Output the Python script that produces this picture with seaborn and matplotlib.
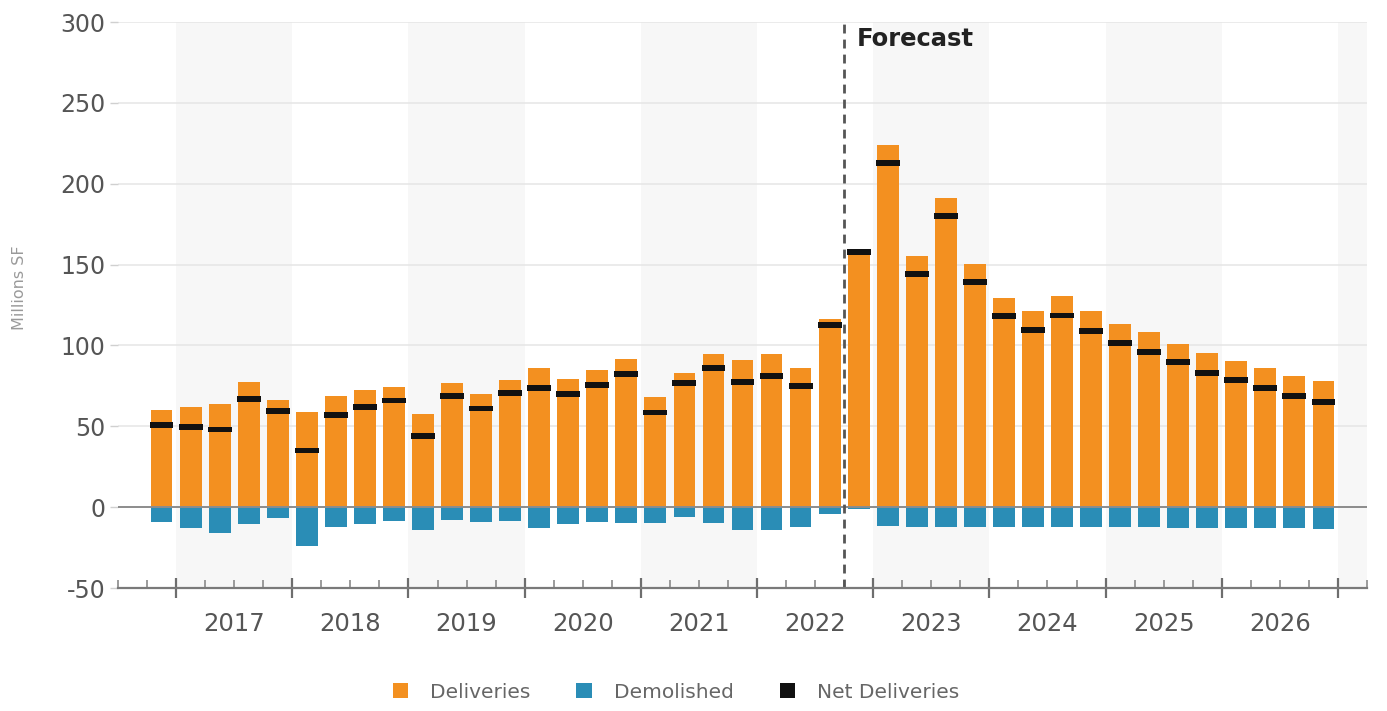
import matplotlib
matplotlib.use("Agg")
import matplotlib.pyplot as plt
from matplotlib.patches import Patch
import numpy as np
import pandas as pd
import seaborn as sns

# Quarterly series, 2016 Q4 through 2026 Q4 (millions of square feet)
quarters = (["2016 Q4"]
            + [f"{y} Q{q}" for y in range(2017, 2027) for q in range(1, 5)])
deliveries = [60, 62, 64, 77.5, 66, 59, 69, 72.5, 74.5, 57.5, 76.5, 70, 78.5,
              86, 79.5, 84.5, 91.5, 68, 83, 95, 91, 95, 86, 116.5,
              159, 224, 155, 191, 150.5, 129.5, 121, 130.5, 121,
              113, 108, 101, 95.5, 90.5, 86, 81, 78]
demolished = [-9, -13, -16, -10.5, -7, -24, -12.5, -10.5, -8.5, -14, -8, -9,
              -8.5, -13, -10.5, -9, -9.5, -10, -6, -9.5, -14, -14, -12, -4,
              -1, -11.5, -12, -12, -12, -12, -12, -12, -12,
              -12.5, -12.5, -13, -13, -13, -13, -13, -13.5]
net_deliveries = [51, 49.5, 48, 67, 59.5, 35, 57, 62, 66, 44, 68.5, 61, 70.5,
                  73.5, 70, 75.5, 82.5, 58.5, 77, 86, 77.5, 81, 75, 112.5,
                  158, 213, 144, 180, 139, 118, 109.5, 118.5, 109,
                  101.5, 96, 89.5, 83, 78.5, 73.5, 68.5, 65]
years = list(range(2017, 2027))
y_ticks = [-50, 0, 50, 100, 150, 200, 250, 300]
legend_labels = ["Deliveries", "Demolished", "Net Deliveries"]
forecast_label = "Forecast"
y_label = "Millions SF"

ORANGE = "#F39020"
BLUE = "#2A8DB6"
BLACK = "#111111"

df = pd.DataFrame({"quarter": quarters,
                   "deliveries": deliveries,
                   "demolished": demolished,
                   "net": net_deliveries})

sns.set_style("white")
plt.rcParams["font.family"] = ["DejaVu Sans"]

fig = plt.figure(figsize=(13.87, 7.11), dpi=100)
ax = fig.add_axes([118 / 1387, 1 - 588 / 711, (1367 - 118) / 1387, (588 - 22) / 711])

n = len(quarters)
pos = np.arange(n)

# alternating year bands (odd years shaded); 2017 starts at position 0.5
for k in range(0, 12, 2):
    ax.axvspan(0.5 + 4 * k, 4.5 + 4 * k, color="#F7F7F7", lw=0, zorder=0)

# horizontal gridlines
for yv in y_ticks:
    if yv in (0, -50):
        continue
    ax.axhline(yv, color="#E6E6E6", lw=1.1, zorder=0.5)

sns.barplot(data=df, x="quarter", y="deliveries", color=ORANGE, saturation=1,
            width=0.75, ax=ax, zorder=2, linewidth=0)
sns.barplot(data=df, x="quarter", y="demolished", color=BLUE, saturation=1,
            width=0.75, ax=ax, zorder=2, linewidth=0)

# net deliveries marker: a short thick black dash on each bar
mark_h = 3.6
ax.bar(pos, [mark_h] * n, bottom=np.array(net_deliveries) - mark_h / 2,
       width=0.82, color=BLACK, lw=0, zorder=3)

ax.axhline(0, color="#8C8C8C", lw=1.4, zorder=3.5)

# forecast divider
ax.axvline(23.5, color="#555555", lw=2, ls=(0, (3.2, 2.2)), zorder=4)
ax.text(23.93, 289.5, forecast_label, fontsize=17.5, fontweight="bold",
        color="#222222", va="center", ha="left", zorder=5)

ax.set_xlim(-1.5, 41.5)
ax.set_ylim(-50, 300)
ax.set_xlabel("")
ax.set_ylabel("")

# y axis
ax.set_yticks(y_ticks)
ax.set_yticklabels([str(v) for v in y_ticks])
ax.tick_params(axis="y", which="major", left=True, length=6, width=1,
               color="#D0D0D0", pad=3, labelsize=17, labelcolor="#555555",
               direction="out")

# x axis: year boundaries as major ticks, quarter boundaries as minor ticks
major_pos = [0.5 + 4 * k for k in range(11)]
minor_pos = [q + 0.5 for q in range(-2, 42) if q % 4 != 0]
minor_lab = []
for q in range(-2, 42):
    if q % 4 == 0:
        continue
    if q % 4 == 2 and 0 <= (q - 2) // 4 < len(years):
        minor_lab.append(str(years[(q - 2) // 4]))
    else:
        minor_lab.append("")
ax.set_xticks(major_pos)
ax.set_xticklabels([""] * len(major_pos))
ax.set_xticks(minor_pos, minor=True)
ax.set_xticklabels(minor_lab, minor=True)
ax.tick_params(axis="x", which="major", bottom=True, direction="inout",
               length=14, width=1.6, color="#6E6E6E")
ax.tick_params(axis="x", which="minor", bottom=True, direction="in",
               length=6, width=1.2, color="#8A8A8A", pad=17, labelsize=17.5,
               labelcolor="#555555")

for side in ["top", "right", "left"]:
    ax.spines[side].set_visible(False)
ax.spines["bottom"].set_color("#7A7A7A")
ax.spines["bottom"].set_linewidth(1.6)
ax.spines["bottom"].set_zorder(4)

fig.text(20 / 1387, 1 - 288 / 711, y_label, rotation=90, ha="center",
         va="center", fontsize=11.5, color="#9A9A9A")

handles = [Patch(facecolor=c, edgecolor="none") for c in (ORANGE, BLUE, BLACK)]
fig.legend(handles, legend_labels, loc="center", ncol=3,
           bbox_to_anchor=(676 / 1387, 1 - 692 / 711), frameon=False,
           fontsize=14.5, labelcolor="#666666", handlelength=0.75,
           handleheight=0.8, handletextpad=1.1, columnspacing=2.3)

fig.savefig("out.png", dpi=100, facecolor="white")
